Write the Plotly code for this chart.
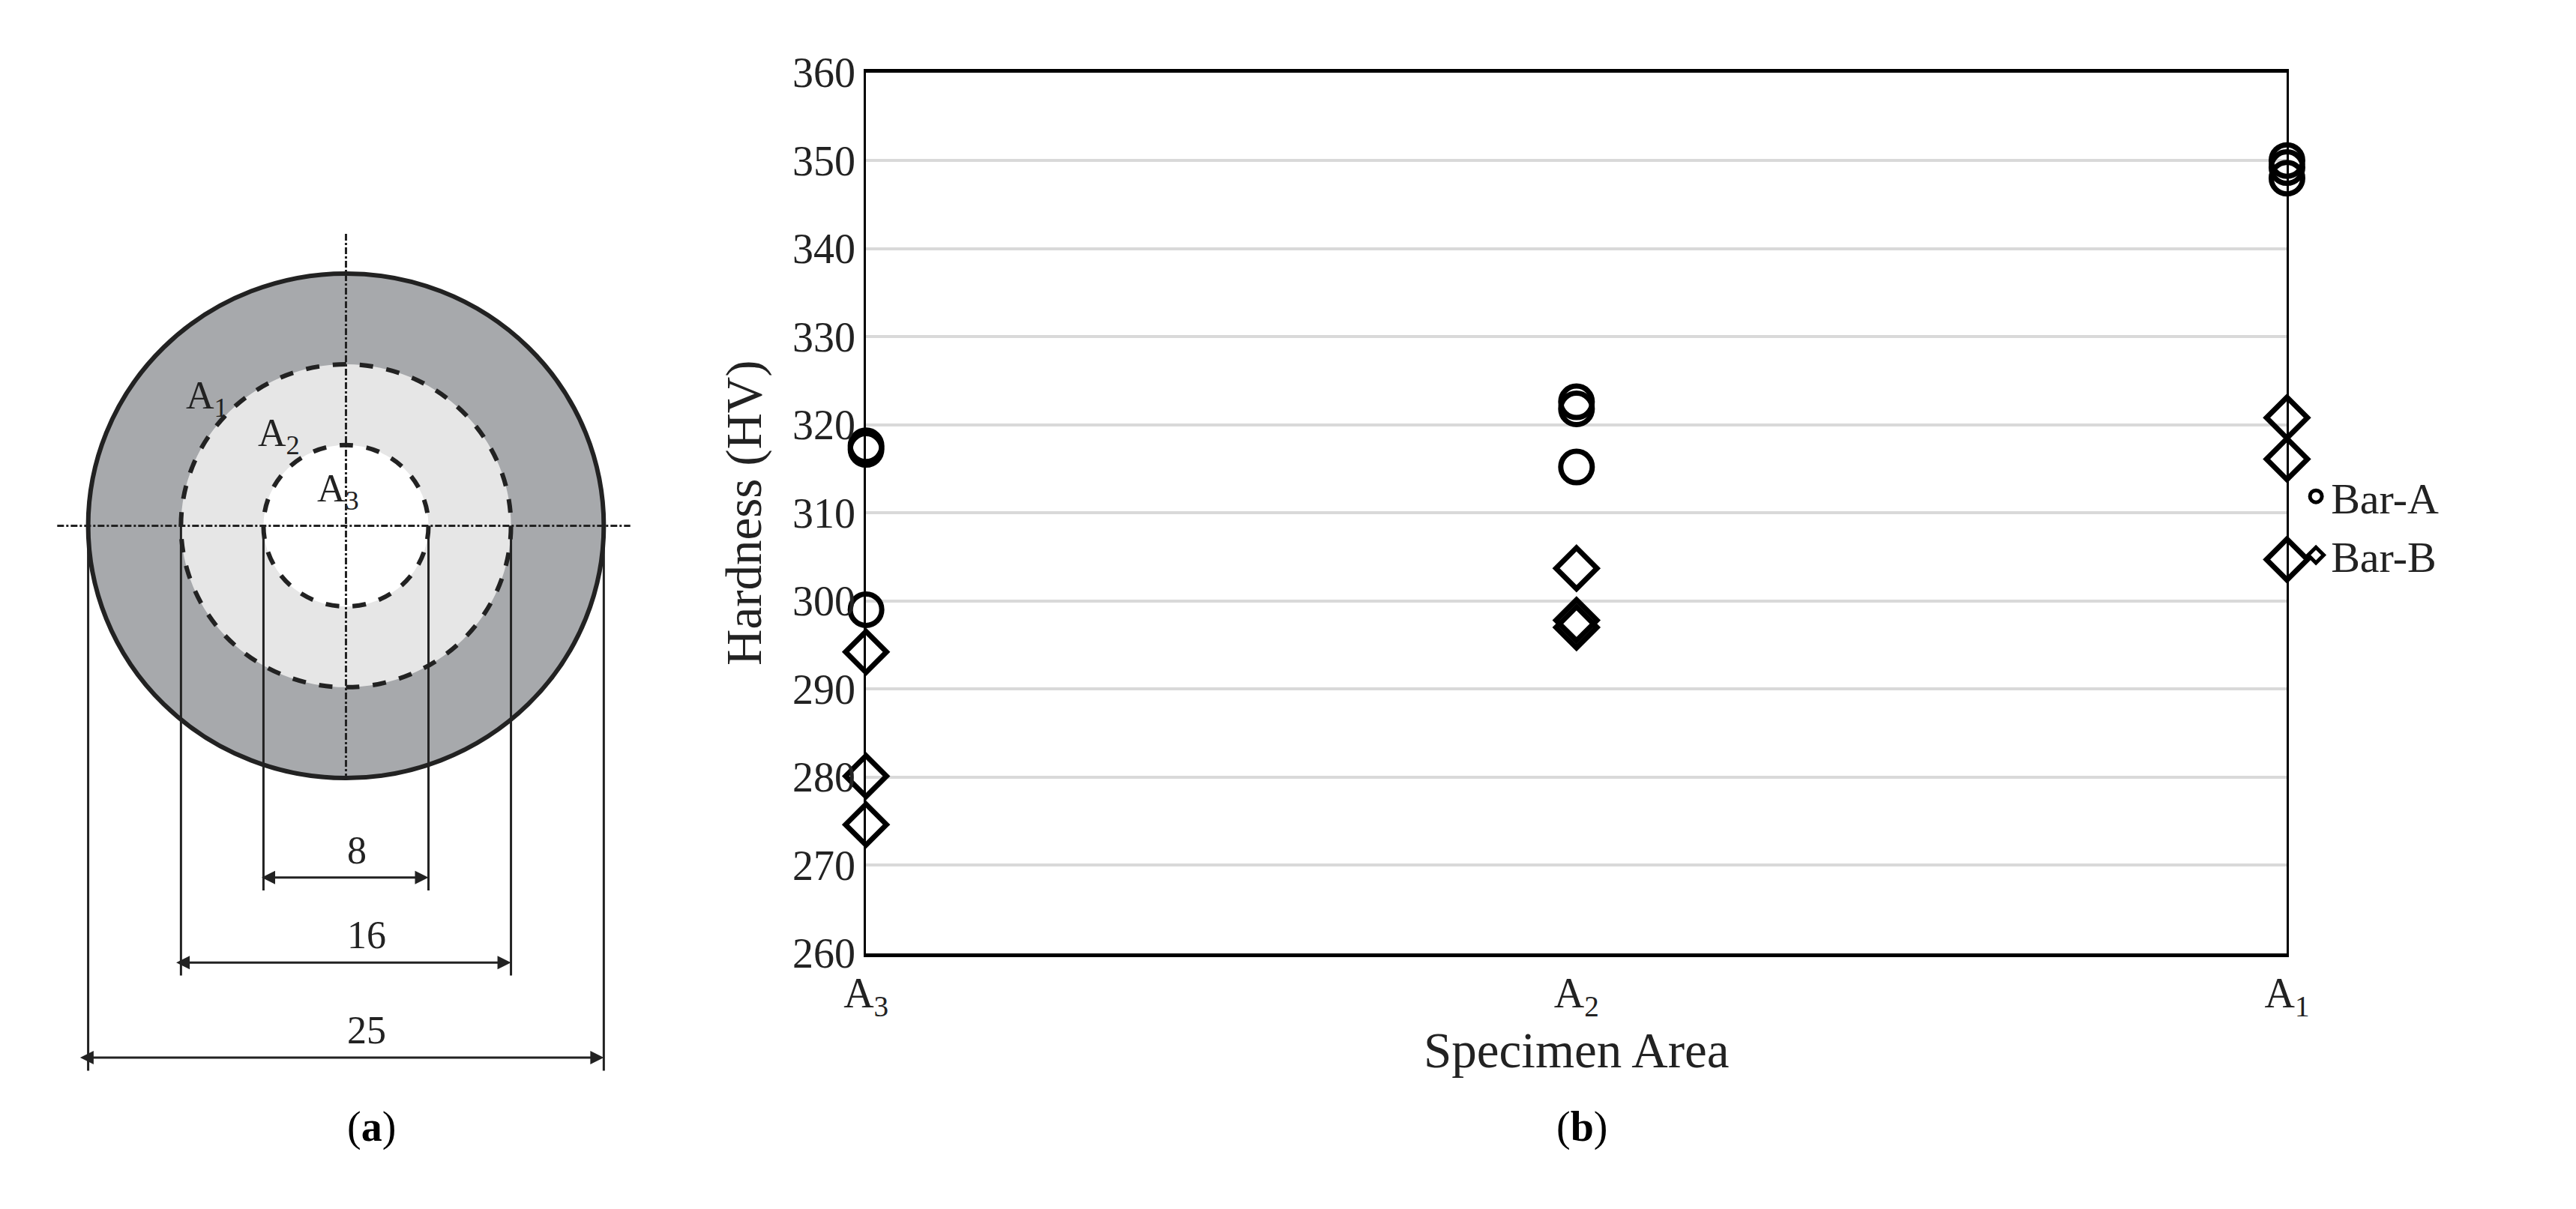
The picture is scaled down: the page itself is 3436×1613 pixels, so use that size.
import plotly.graph_objects as go

W, H = 3436, 1613

areas = ["A<sub>3</sub>", "A<sub>2</sub>", "A<sub>1</sub>"]
bar_a_x = [0, 0, 0, 1, 1, 1, 2, 2, 2]
bar_a_y = [317.6, 317.2, 299.0, 322.6, 321.8, 315.2, 350.0, 349.2, 348.0]
bar_b_x = [0, 0, 0, 1, 1, 1, 2, 2, 2]
bar_b_y = [294.2, 280.1, 274.6, 303.7, 297.8, 297.0, 320.8, 316.1, 304.7]
diameters = [25, 16, 8]  # mm
region_labels = ["A<sub>1</sub>", "A<sub>2</sub>", "A<sub>3</sub>"]

FONT = "Liberation Serif"


def px(x):
    return x / W


def py(y):
    return 1 - y / H


fig = go.Figure()
mk = dict(size=42, line=dict(color="black", width=7), color="black")
fig.add_trace(go.Scatter(x=bar_a_x, y=bar_a_y, mode="markers", name="Bar-A",
                         marker=dict(symbol="circle-open", **mk), cliponaxis=False))
fig.add_trace(go.Scatter(x=bar_b_x, y=bar_b_y, mode="markers", name="Bar-B",
                         marker=dict(symbol="diamond-open", **mk), cliponaxis=False))

# cross-section sketch, in page pixels
cx, cy, s = 431, 690, 28.0  # centre px, px per mm
fills = ["#a7a9ac", "#e6e6e6", "white"]
dashes = ["solid", "dash", "dash"]
shapes = []
for d, f, da in zip(diameters, fills, dashes):
    r = d / 2 * s
    shapes.append(dict(type="circle", xref="paper", yref="paper", x0=px(cx - r), x1=px(cx + r),
                       y0=py(cy + r), y1=py(cy - r), fillcolor=f,
                       line=dict(color="#222", width=6, dash=da)))
shapes.append(dict(type="line", xref="paper", yref="paper", x0=px(cx), x1=px(cx),
                   y0=py(285), y1=py(1040), line=dict(color="#222", width=3, dash="dashdot")))
shapes.append(dict(type="line", xref="paper", yref="paper", x0=px(39), x1=px(817),
                   y0=py(cy), y1=py(cy), line=dict(color="#222", width=3, dash="dashdot")))
dim_y = [1428, 1296, 1178]
annotations = []
for d, yy in zip(diameters, dim_y):
    r = d / 2 * s
    for xx in (cx - r, cx + r):
        shapes.append(dict(type="line", xref="paper", yref="paper", x0=px(xx), x1=px(xx),
                           y0=py(cy), y1=py(yy + 18), line=dict(color="#222", width=3)))
    annotations.append(dict(xref="paper", yref="paper", x=px(cx + r), y=py(yy),
                            ax=-2 * r, ay=0, showarrow=True, arrowhead=2, arrowside="end+start",
                            arrowwidth=3, arrowsize=1.2, arrowcolor="#222", text=""))
    annotations.append(dict(xref="paper", yref="paper", x=px(cx), y=py(yy - 6), text=str(d),
                            showarrow=False, yanchor="bottom",
                            font=dict(size=52, color="#222", family=FONT)))
for lab, (lx, ly) in zip(region_labels, [(212, 477), (309, 565), (390, 642)]):
    annotations.append(dict(xref="paper", yref="paper", x=px(lx), y=py(ly), text=lab,
                            showarrow=False, font=dict(size=52, color="#222", family=FONT)))
for lab, lx in [("(<b>a</b>)", 431), ("(<b>b</b>)", 2109)]:
    annotations.append(dict(xref="paper", yref="paper", x=px(lx), y=py(1559), text=lab,
                            showarrow=False, font=dict(size=56, color="black", family=FONT)))

fig.update_layout(
    width=W, height=H, margin=dict(l=0, r=0, t=0, b=0),
    paper_bgcolor="white", plot_bgcolor="white",
    font=dict(family=FONT, size=56, color="#222"),
    shapes=shapes, annotations=annotations,
    xaxis=dict(domain=[px(1137), px(3066)], range=[0, 2], tickvals=[0, 1, 2], ticktext=areas,
               showgrid=False, zeroline=False, showline=True, linecolor="black", linewidth=5,
               mirror=True, ticks="", title=dict(text="Specimen Area", standoff=5)),
    yaxis=dict(domain=[py(1283), py(61)], range=[260, 360], dtick=10,
               gridcolor="#d9d9d9", gridwidth=4, zeroline=False, showline=True,
               linecolor="black", linewidth=3, mirror=True, ticks="",
               title=dict(text="Hardness (HV)", standoff=20)),
    legend=dict(x=px(3085), y=py(690), xanchor="left", yanchor="middle",
                font=dict(size=58), itemwidth=30, tracegroupgap=30,
                bgcolor="rgba(0,0,0,0)"),
)

fig.write_html("out.html")
